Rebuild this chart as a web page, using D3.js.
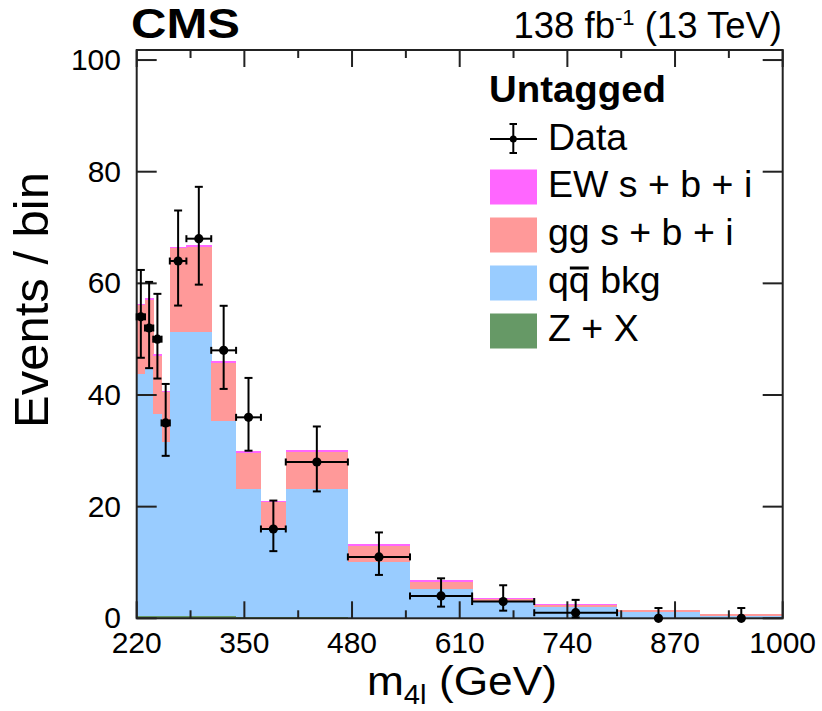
<!DOCTYPE html>
<html>
<head>
<meta charset="utf-8">
<script src="https://cdn.jsdelivr.net/npm/d3@7"></script>
<style>
  html, body { margin: 0; padding: 0; background: #fff; }
  svg { display: block; }
  text { font-family: "Liberation Sans", Arial, Helvetica, sans-serif; fill: #000; }
</style>
</head>
<body>
<svg id="chart" width="822" height="711"></svg>
<script>
// ---------------- data ----------------
const binEdges   = [220, 230, 240, 250, 260, 280, 310, 340, 370, 400, 475, 550, 625, 700, 800, 900, 1000];
const dataCounts = [54, 52, 50, 35, 64, 68, 48, 36, 16, 28, 11, 4, 3, 1, 0, 0];
const dataErrLo  = [7.33, 7.19, 7.05, 5.90, 7.98, 8.23, 6.91, 5.98, 3.97, 5.27, 3.23, 1.91, 1.63, 0.83, 0, 0];
const dataErrHi  = [8.40, 8.26, 8.12, 6.98, 9.05, 9.29, 7.98, 7.06, 5.09, 6.36, 4.38, 3.16, 2.92, 2.30, 1.84, 1.84];
const zxBkg      = [0.50, 0.50, 0.40, 0.40, 0.50, 0.50, 0.35, 0.30, 0.15, 0.20, 0.10, 0.05, 0.03, 0.02, 0.01, 0.01];
const qqBkg      = [43.3, 44.1, 36.2, 31.1, 50.7, 50.7, 34.95, 22.8, 16.05, 23.0, 10.05, 5.15, 2.87, 1.98, 1.09, 0.49];
const ggSBI      = [12.3, 12.45, 10.4, 9.05, 15.05, 15.25, 10.45, 6.5, 4.55, 6.55, 2.85, 1.35, 0.55, 0.43, 0.30, 0.25];
const ewSBI      = [0.20, 0.25, 0.30, 0.25, 0.35, 0.35, 0.35, 0.30, 0.25, 0.45, 0.30, 0.25, 0.15, 0.12, 0.10, 0.05];
const xTicks     = [220, 350, 480, 610, 740, 870, 1000];
const xMinorTicks= [285, 415, 545, 675, 805, 935];
const yTicks     = [0, 20, 40, 60, 80, 100];

const legendItems = [
  {key: "ew", label: "EW s + b + i", color: "#ff66ff"},
  {key: "gg", label: "gg s + b + i", color: "#ff9999"},
  {key: "qq", label: "qq bkg",       color: "#99ccff"},
  {key: "zx", label: "Z + X",        color: "#669966"}
];

// ---------------- layout ----------------
const L = 136.7, R = 782.7, B = 618.3, T = 50;
const svg = d3.select("#chart");
const x = d3.scaleLinear().domain([220, 1000]).range([L, R]);
const y = d3.scaleLinear().domain([0, 101.8]).range([B, T]);

const colorOf = {};
legendItems.forEach(d => colorOf[d.key] = d.color);

// stacked histogram
const rows = dataCounts.map((_, i) => ({
  lo: binEdges[i], hi: binEdges[i + 1],
  zx: zxBkg[i], qq: qqBkg[i], gg: ggSBI[i], ew: ewSBI[i]
}));
const stack = d3.stack().keys(["zx", "qq", "gg", "ew"])(rows);
const g = svg.append("g");
stack.forEach(layer => {
  g.append("g").selectAll("rect").data(layer).join("rect")
    .attr("x", d => x(d.data.lo))
    .attr("width", d => x(d.data.hi) - x(d.data.lo) + 0.4)
    .attr("y", d => y(d[1]))
    .attr("height", d => Math.max(0, y(d[0]) - y(d[1])))
    .attr("fill", colorOf[layer.key])
    .attr("shape-rendering", "crispEdges");
});

// axes frame & ticks
const ax = svg.append("g").attr("stroke", "#222").attr("stroke-width", 2).attr("fill", "none");
ax.append("rect").attr("x", L).attr("y", T).attr("width", R - L).attr("height", B - T);
const majLen = 17, minLen = 8, yLen = 20;
xTicks.forEach(v => {
  ax.append("line").attr("x1", x(v)).attr("x2", x(v)).attr("y1", B).attr("y2", B - majLen);
  ax.append("line").attr("x1", x(v)).attr("x2", x(v)).attr("y1", T).attr("y2", T + majLen);
});
xMinorTicks.forEach(v => {
  ax.append("line").attr("x1", x(v)).attr("x2", x(v)).attr("y1", B).attr("y2", B - minLen);
  ax.append("line").attr("x1", x(v)).attr("x2", x(v)).attr("y1", T).attr("y2", T + minLen);
});
yTicks.forEach(v => {
  ax.append("line").attr("x1", L).attr("x2", L + yLen).attr("y1", y(v)).attr("y2", y(v));
  ax.append("line").attr("x1", R).attr("x2", R - yLen).attr("y1", y(v)).attr("y2", y(v));
});

// tick labels
svg.append("g").selectAll("text").data(xTicks).join("text")
  .attr("x", d => x(d)).attr("y", 653).attr("text-anchor", "middle")
  .attr("font-size", 30).text(d => d);
svg.append("g").selectAll("text").data(yTicks).join("text")
  .attr("x", 121).attr("y", d => y(d) + 10).attr("text-anchor", "end")
  .attr("font-size", 30).text(d => d);

// axis titles
const xt = svg.append("text").attr("x", 557).attr("y", 695).attr("text-anchor", "end").attr("font-size", 41)
  .attr("textLength", 190).attr("lengthAdjust", "spacingAndGlyphs");
xt.append("tspan").text("m");
xt.append("tspan").attr("font-size", 27).attr("dy", 9).text("4l");
xt.append("tspan").attr("dy", -9).text(" (GeV)");

svg.append("text").attr("transform", "translate(48,172) rotate(-90)")
  .attr("text-anchor", "end").attr("font-size", 49).text("Events / bin");

// header
svg.append("text").attr("x", 131).attr("y", 38).attr("font-size", 42).attr("font-weight", "bold")
  .attr("textLength", 109).attr("lengthAdjust", "spacingAndGlyphs").text("CMS");
const lumi = svg.append("text").attr("x", 782).attr("y", 38).attr("text-anchor", "end").attr("font-size", 36.5);
lumi.append("tspan").text("138 fb");
lumi.append("tspan").attr("font-size", 22).attr("dy", -13).text("-1");
lumi.append("tspan").attr("dy", 13).text(" (13 TeV)");

// data points
const pts = svg.append("g").attr("stroke", "#000").attr("stroke-width", 2);
dataCounts.forEach((n, i) => {
  const cx = x((binEdges[i] + binEdges[i + 1]) / 2);
  const cy = y(n);
  const yHi = y(n + dataErrHi[i]), yLo = y(n - dataErrLo[i]);
  pts.append("line").attr("x1", cx).attr("x2", cx).attr("y1", yHi).attr("y2", yLo);
  pts.append("line").attr("x1", cx - 4).attr("x2", cx + 4).attr("y1", yHi).attr("y2", yHi);
  if (dataErrLo[i] > 0) pts.append("line").attr("x1", cx - 4).attr("x2", cx + 4).attr("y1", yLo).attr("y2", yLo);
  if (n > 0) {
    const xl = x(binEdges[i]), xr = x(binEdges[i + 1]);
    pts.append("line").attr("x1", xl).attr("x2", xr).attr("y1", cy).attr("y2", cy);
    pts.append("line").attr("x1", xl).attr("x2", xl).attr("y1", cy - 3.5).attr("y2", cy + 3.5);
    pts.append("line").attr("x1", xr).attr("x2", xr).attr("y1", cy - 3.5).attr("y2", cy + 3.5);
  }
  svg.append("circle").attr("cx", cx).attr("cy", cy).attr("r", 4.6).attr("fill", "#000");
});

// legend
const lg = svg.append("g");
lg.append("text").attr("x", 489).attr("y", 102).attr("font-size", 36).attr("font-weight", "bold")
  .attr("textLength", 177).attr("lengthAdjust", "spacingAndGlyphs").text("Untagged");
// Data entry
const dy0 = 139;
lg.append("line").attr("x1", 490).attr("x2", 537).attr("y1", dy0).attr("y2", dy0).attr("stroke", "#000").attr("stroke-width", 2);
lg.append("line").attr("x1", 513.3).attr("x2", 513.3).attr("y1", 124).attr("y2", 153).attr("stroke", "#000").attr("stroke-width", 2);
lg.append("line").attr("x1", 509.5).attr("x2", 517).attr("y1", 124).attr("y2", 124).attr("stroke", "#000").attr("stroke-width", 2);
lg.append("line").attr("x1", 509.5).attr("x2", 517).attr("y1", 153).attr("y2", 153).attr("stroke", "#000").attr("stroke-width", 2);
lg.append("circle").attr("cx", 513.3).attr("cy", dy0).attr("r", 3.5).attr("fill", "#000");
lg.append("text").attr("x", 548).attr("y", 149.5).attr("font-size", 37.5).text("Data");

legendItems.forEach((d, i) => {
  const top = 169.5 + i * 48;
  lg.append("rect").attr("x", 490).attr("y", top).attr("width", 47).attr("height", 35).attr("fill", d.color);
  const t = lg.append("text").attr("x", 548).attr("y", top + 27.5).attr("font-size", 37.5);
  if (d.key === "qq") {
    t.append("tspan").text("q");
    t.append("tspan").text("q");
    t.append("tspan").text(" bkg");
    const node = t.node();
    const sx = node.getStartPositionOfChar(1).x;
    const w = node.getSubStringLength(1, 1);
    lg.append("line").attr("x1", sx + 1).attr("x2", sx + w - 1)
      .attr("y1", top + 2.5).attr("y2", top + 2.5).attr("stroke", "#000").attr("stroke-width", 3);
  } else {
    t.text(d.label);
  }
});
</script>
</body>
</html>
